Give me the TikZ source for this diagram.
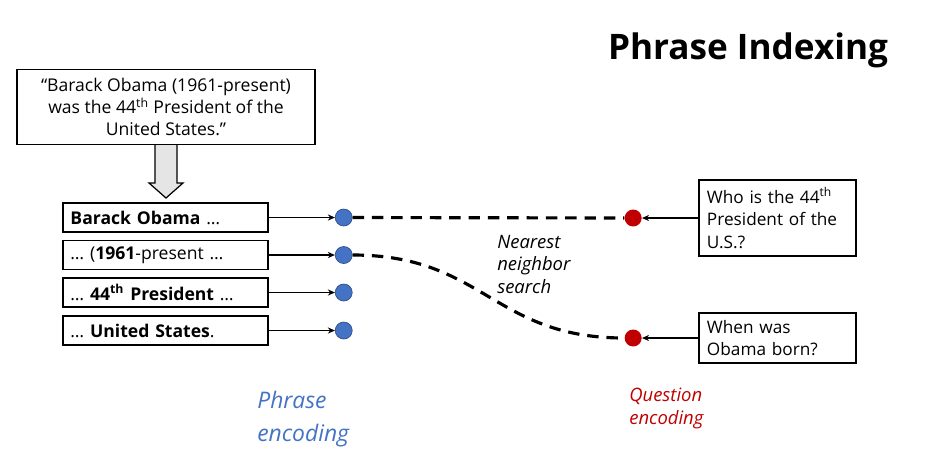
\documentclass[tikz,border=0pt]{standalone}
\usepackage{fontspec}
\setmainfont{Open Sans}
\usetikzlibrary{arrows.meta,positioning}
\definecolor{encblue}{HTML}{4472C4}
\definecolor{encred}{HTML}{C00000}

\tikzset{
    doc/.style={draw,line width=1.1pt,minimum width=5.96cm,minimum height=1.5cm,align=center,font=\fontsize{10}{12.75}\selectfont},
    phrase/.style={draw,line width=1.1pt,anchor=west,minimum height=0.58cm,inner ysep=0,inner xsep=0.15cm,text width=3.8cm,align=left,font=\fontsize{10}{12.75}\selectfont},
    query/.style={draw,line width=1.1pt,anchor=west,inner xsep=0.16cm,text width=2.82cm,align=left,font=\fontsize{9.8}{12.75}\selectfont},
    pdot/.style={circle,fill=encblue,draw=encblue!70!black,line width=0.4pt,inner sep=0,minimum size=0.34cm},
    qdot/.style={circle,fill=encred,inner sep=0,minimum size=0.34cm},
    feed/.style={-{Stealth[length=4pt,width=3.5pt]},line width=0.9pt},
    match/.style={dash pattern=on 6.5pt off 4.5pt,line width=1.8pt}
    }

\begin{document}
\begin{tikzpicture}[x=0.02cm,y=-0.02cm]
    \useasboundingbox (0,0) rectangle (949,461);
    % title
    \node(title) at (748,50) {\fontsize{20}{24}\selectfont\bfseries Phrase Indexing};

    % the passage and its phrases
    \node(doc)[doc] at (166,107) {``Barack Obama (1961-present)\\was the 44\textsuperscript{th} President of the\\United States.''};
    \draw[fill=gray!20,line width=0.7pt] (155,145) -- (155,183) -- (149,183) -- (166,198) -- (183,183) -- (177,183) -- (177,145);
    \node(p1)[phrase] at (62,217.5) {\textbf{Barack Obama} \dots};
    \node(p2)[phrase] at (62,255) {\dots{} (\textbf{1961}-present \dots};
    \node(p3)[phrase] at (62,292.5) {\dots{} \textbf{44\textsuperscript{th} President} \dots};
    \node(p4)[phrase] at (62,330.5) {\dots{} \textbf{United States}.};
    \foreach \i in {1,...,4}{
        \node(pd\i)[pdot, right=1.32cm of p\i] {};
        \draw[feed] (p\i) -- (pd\i);
    }

    % the questions
    \node(q1)[query,minimum height=1.52cm] at (698,218) {Who is the 44\textsuperscript{th}\\President of the\\U.S.?};
    \node(q2)[query,minimum height=1.0cm] at (698,338) {When was\\Obama born?};
    \node(qd1)[qdot, left=1.12cm of q1] {};
    \node(qd2)[qdot, left=1.12cm of q2] {};
    \draw[feed] (q1) -- (qd1);
    \draw[feed] (q2) -- (qd2);

    % search
    \draw[match] (pd1) -- (qd1);
    \draw[match] (pd2) .. controls +(140,0) and +(-140,0) .. (qd2);
    \node(nns)[anchor=north west,align=left,inner sep=0,font=\fontsize{10.5}{12.75}\selectfont\itshape] at (497,235) {Nearest\\neighbor\\search};

    % labels
    \node(penc)[anchor=north west,align=left,inner sep=0,text=encblue,font=\fontsize{13}{18.5}\selectfont\itshape] at (257,391) {Phrase\\encoding};
    \node(qenc)[anchor=north west,align=left,inner sep=0,text=encred,font=\fontsize{10.5}{12.75}\selectfont\itshape] at (629,388) {Question\\encoding};
\end{tikzpicture}
\end{document}
